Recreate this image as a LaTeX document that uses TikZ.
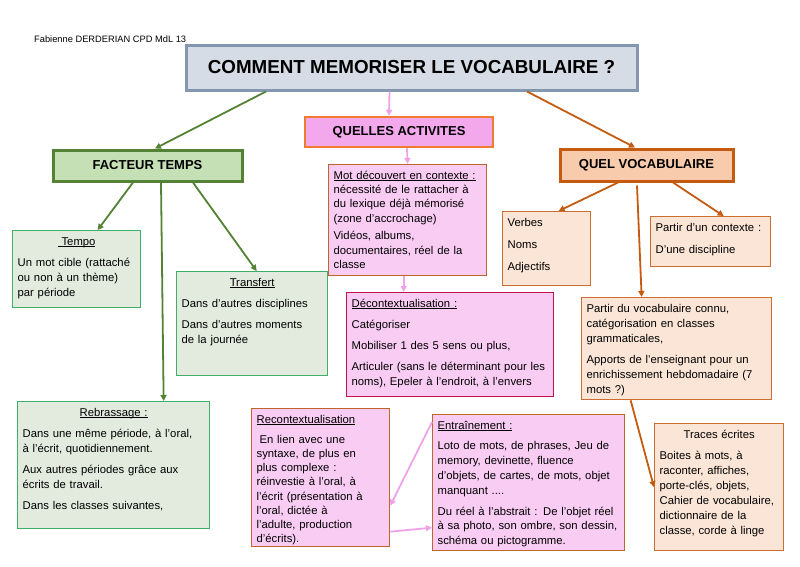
\documentclass[tikz,border=0pt]{standalone}
\usepackage{fontspec}
\setmainfont{Liberation Sans}
\usetikzlibrary{arrows.meta}
\definecolor{titlefill}{HTML}{D6DCE5}
\definecolor{titleline}{HTML}{8497B0}
\definecolor{actfill}{HTML}{F3A8EC}
\definecolor{actline}{HTML}{ED7D31}
\definecolor{pinkfill}{HTML}{F9CCF3}
\definecolor{pinkline}{HTML}{C0652C}
\definecolor{redline}{HTML}{C0144A}
\definecolor{pinkarrow}{HTML}{F0A2E6}
\definecolor{tempsfill}{HTML}{C5E0B4}
\definecolor{tempsline}{HTML}{548235}
\definecolor{sagefill}{HTML}{E3EBDE}
\definecolor{sageline}{HTML}{3FAE66}
\definecolor{vocabfill}{HTML}{F8CBAD}
\definecolor{vocabline}{HTML}{C55A11}
\definecolor{peachfill}{HTML}{FBE5D6}
\definecolor{peachline}{HTML}{CC6E30}
\newcommand{\bodysize}{\fontsize{11.3}{15}\selectfont}
\newcommand{\gap}{\\[6pt]}
% underline sitting just under the baseline
\newcommand{\uln}[1]{\setbox0\hbox{#1}\rlap{\rule[-1.8pt]{\wd0}{0.6pt}}\box0}
\tikzset{
  % The heading boxes: fixed size, bold capitals
  heading/.style={
    fill=#1fill, draw=#1line, line width=3pt, inner sep=0pt,
    font=\fontsize{13}{15}\selectfont\bfseries},
  % A text box hung from its top-left corner
  txtbox/.style={
    fill=#1fill, line width=1.3pt, align=left, anchor=north west,
    inner xsep=5pt, inner ysep=4pt, text height=10.5pt, font=\bodysize},
  sagebox/.style={txtbox=sage, draw=sageline},
  pinkbox/.style={txtbox=pink, draw=pinkline},
  peachbox/.style={txtbox=peach, draw=peachline},
  % Links between boxes
  link/.style={-{Triangle[length=6pt,width=6pt]}, line width=1.8pt, draw=#1},
}

\begin{document}
\begin{tikzpicture}[x=1pt, y=-1pt]
  \useasboundingbox (0,0) rectangle (800,566);

  \node[anchor=west, inner sep=0pt, font=\fontsize{9.3}{11}\selectfont] (author) at (34,39)
    {Fabienne DERDERIAN CPD MdL 13};

  % headings
  \node[heading=title, minimum width=451pt, minimum height=45pt,
        font=\fontsize{18.8}{22}\selectfont\bfseries] (title) at (411.5,67.5)
    {COMMENT MEMORISER LE VOCABULAIRE ?};
  \node[heading=act, line width=2.5pt, minimum width=188pt, minimum height=30pt] (act) at (399,132)
    {QUELLES ACTIVITES};
  \node[heading=temps, minimum width=189pt, minimum height=31pt] (temps) at (147.5,165.5)
    {FACTEUR TEMPS};
  \node[heading=vocab, minimum width=173pt, minimum height=32pt] (vocab) at (646.5,165)
    {QUEL VOCABULAIRE};

  % facteur temps
  \node[sagebox, text width=118pt, text depth=58.5pt] (tempo) at (12,230)
    {\makebox[\linewidth]{\uln{\ Tempo}}\gap
     Un mot cible (rattaché\\ ou non à un thème)\\ par période};
  \node[sagebox, text width=141pt, text depth=85.5pt] (transfert) at (176,271)
    {\makebox[\linewidth]{\uln{Transfert}}\gap
     Dans d’autres disciplines\gap Dans d’autres moments\\ de la journée};
  \node[sagebox, text width=182pt, text depth=108.5pt] (rebrassage) at (17,401)
    {\makebox[\linewidth]{\uln{Rebrassage :}}\gap
     Dans une même période, à l’oral,\\ à l’écrit, quotidiennement.\gap
     Aux autres périodes grâce aux\\ écrits de travail.\gap
     Dans les classes suivantes,};

  % quelles activites
  \node[pinkbox, text width=148pt, text depth=92.5pt,
        font=\fontsize{11.3}{14.4}\selectfont] (contexte) at (328,164)
    {\uln{Mot découvert en contexte :}\\ nécessité de le rattacher à\\
     du lexique déjà mémorisé\\ (zone d’accrochage)\\[3pt]
     Vidéos, albums,\\ documentaires, réel de la\\ classe};
  \node[pinkbox, draw=redline, text width=197pt, text depth=85.5pt] (decontext) at (346,292)
    {\uln{Décontextualisation :}\gap Catégoriser\gap
     Mobiliser 1 des 5 sens ou plus,\gap
     Articuler (sans le déterminant pour les\\ noms), Epeler à l’endroit, à l’envers};
  \node[pinkbox, text width=128pt, text depth=119.5pt,
        font=\fontsize{11.3}{14.2}\selectfont] (recontext) at (251,408)
    {\uln{Recontextualisation}\gap \hspace*{3pt}En lien avec une\\ syntaxe, de plus en\\
     plus complexe :\\ réinvestie à l’oral, à\\ l’écrit (présentation à\\
     l’oral, dictée à\\ l’adulte, production\\ d’écrits).};
  \node[pinkbox, text width=182pt, text depth=117.5pt,
        font=\fontsize{11.3}{14.8}\selectfont] (entrainement) at (432,414)
    {\uln{Entraînement :}\gap Loto de mots, de phrases, Jeu de\\
     memory, devinette, fluence\\ d’objets, de cartes, de mots, objet\\
     manquant ....\gap Du réel à l’abstrait : De l’objet réel\\
     à sa photo, son ombre, son dessin,\\ schéma ou pictogramme.};

  % quel vocabulaire
  \node[peachbox, text width=78pt, text depth=55.5pt] (classes) at (502,211)
    {Verbes\\[7pt] Noms\\[7pt] Adjectifs};
  \node[peachbox, text width=110pt, text depth=31.5pt] (discipline) at (650,216)
    {Partir d’un contexte :\\[7pt] D’une discipline};
  \node[peachbox, text width=180pt, text depth=83.5pt] (connu) at (581,297)
    {Partir du vocabulaire connu,\\ catégorisation en classes\\ grammaticales,\gap
     Apports de l’enseignant pour un\\ enrichissement hebdomadaire (7\\ mots ?)};
  \node[peachbox, text width=119pt, text depth=108.5pt] (traces) at (654,423)
    {\makebox[\linewidth]{Traces écrites}\gap Boites à mots, à\\ raconter, affiches,\\
     porte-clés, objets,\\ Cahier de vocabulaire,\\ dictionnaire de la\\
     classe, corde à linge};

  % links
  \draw[link=tempsline] ([xshift=-145.5pt]title.south) -- ([xshift=7.5pt]temps.north);
  \draw[link=pinkarrow] ([xshift=-22pt]title.south) -- ([xshift=-10pt]act.north);
  \draw[link=vocabline] ([xshift=115.5pt]title.south) -- ([xshift=-11.5pt]vocab.north);

  \draw[link=tempsline] ([xshift=-14.5pt]temps.south) -- ([xshift=21pt]tempo.north);
  \draw[link=tempsline] ([xshift=13.5pt]temps.south) -- ([xshift=50pt]rebrassage.north);
  \draw[link=tempsline] ([xshift=45.5pt]temps.south) -- ([xshift=4.5pt]transfert.north);

  \draw[link=pinkarrow] ([xshift=8pt]act.south) -- (contexte.north);
  \draw[link=pinkarrow] ([xshift=-4pt]contexte.south) -- ([xshift=-46.5pt]decontext.north);
  \draw[link=pinkarrow] ([yshift=-8pt]entrainement.north west) -- ([yshift=-28pt]recontext.east);
  \draw[link=pinkarrow] ([yshift=-54pt]recontext.east) -- ([yshift=-45pt]entrainement.west);

  \draw[link=vocabline] ([xshift=-28.5pt]vocab.south) -- ([xshift=12pt]classes.north);
  \draw[link=vocabline] ([xshift=-9.5pt,yshift=-3pt]vocab.south) -- ([xshift=-35pt]connu.north);
  \draw[link=vocabline] ([xshift=26.5pt]vocab.south) -- ([xshift=13pt]discipline.north);
  \draw[link=vocabline] ([xshift=-46pt]connu.south) -- (traces.west);

\end{tikzpicture}
\end{document}
